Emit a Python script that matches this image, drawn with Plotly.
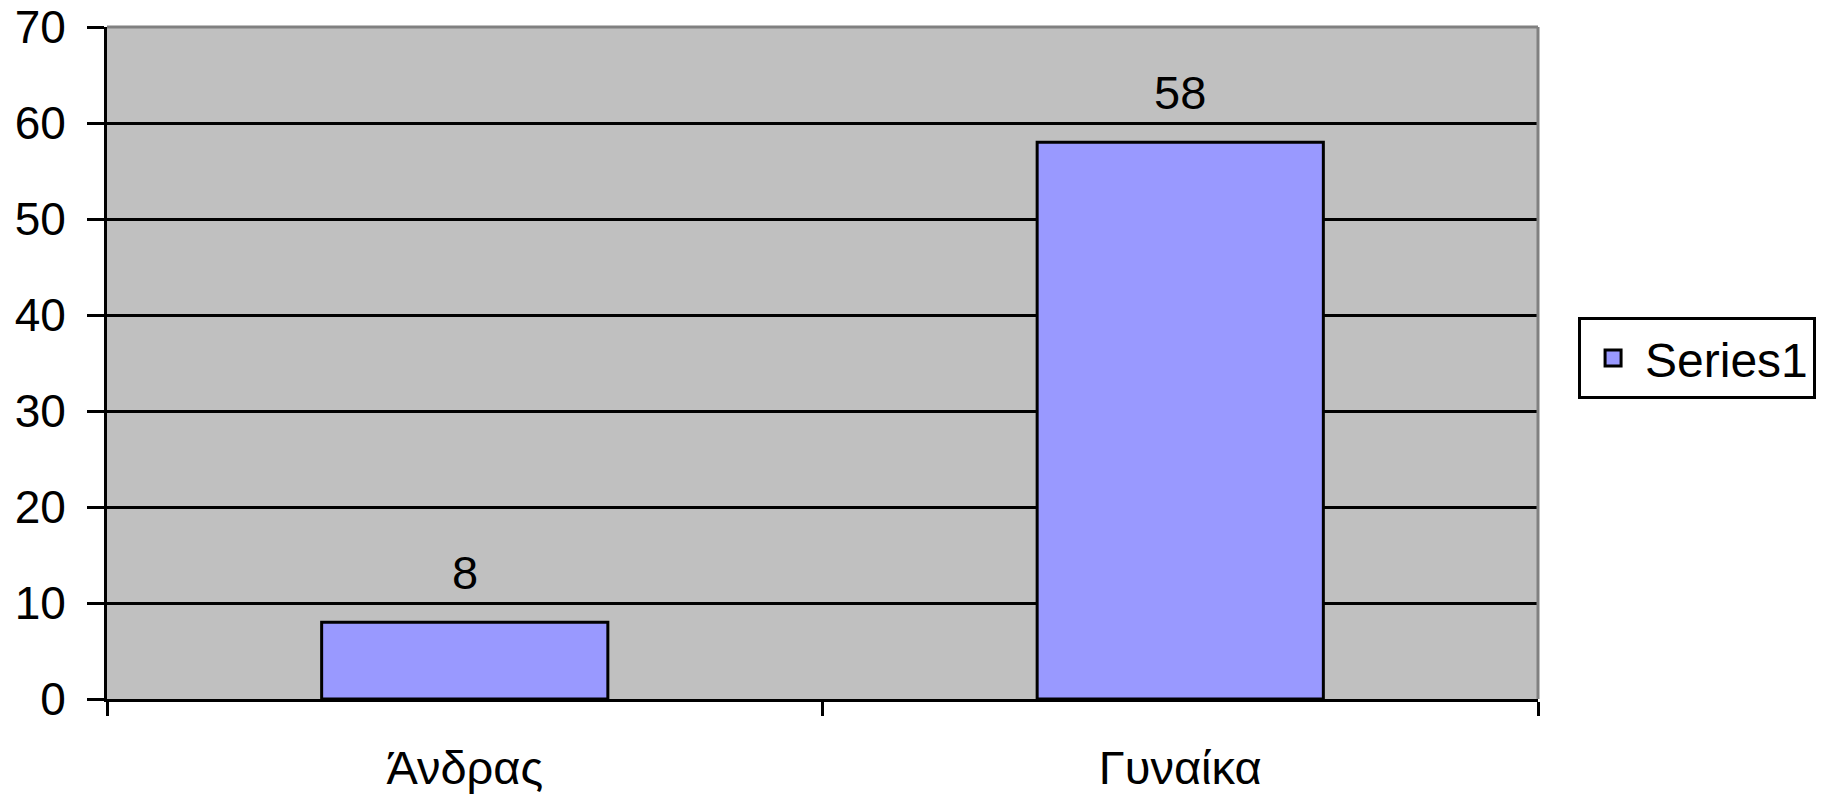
import plotly.graph_objects as go

categories = ["Άνδρας", "Γυναίκα"]
values = [8, 58]
series_name = "Series1"
y_ticks = [0, 10, 20, 30, 40, 50, 60, 70]

FONT = "Liberation Sans, Arial, sans-serif"
BAR_COLOR = "#9999FF"

fig = go.Figure()
fig.add_trace(go.Bar(
    x=categories, y=values, name=series_name,
    marker=dict(color=BAR_COLOR, line=dict(color="black", width=3)),
    width=0.4, showlegend=False,
))
# legend entry with a larger square swatch
fig.add_trace(go.Scatter(
    x=[None], y=[None], mode="markers", name=series_name,
    marker=dict(symbol="square", size=28, color=BAR_COLOR,
                line=dict(color="black", width=3)),
    showlegend=True,
))

for c, v in zip(categories, values):
    fig.add_annotation(x=c, y=v, text=str(v), showarrow=False,
                       yanchor="middle", yshift=50,
                       font=dict(family=FONT, size=47, color="black"))

fig.add_shape(type="line", xref="paper", yref="paper", x0=0, x1=1, y0=1, y1=1,
              line=dict(color="#808080", width=3))
fig.add_shape(type="line", xref="paper", yref="paper", x0=1, x1=1, y0=0, y1=1,
              line=dict(color="#808080", width=3))

fig.update_layout(
    width=1829, height=795,
    margin=dict(l=99, r=299, t=19, b=104, autoexpand=False),
    paper_bgcolor="white", plot_bgcolor="#C0C0C0",
    font=dict(family=FONT, size=47, color="black"),
    legend=dict(x=1.028, y=0.507, xanchor="left", yanchor="middle",
                bordercolor="black", borderwidth=3, bgcolor="white",
                font=dict(family=FONT, size=48), itemwidth=54),
)
fig.update_xaxes(type="category", tickson="boundaries", ticks="outside",
                 ticklen=14, tickwidth=3, tickcolor="black",
                 showline=True, linecolor="black", linewidth=3,
                 showgrid=False, ticklabelstandoff=26, automargin=False)
fig.update_yaxes(range=[0, 70], tickvals=y_ticks, ticks="outside",
                 ticklen=17, tickwidth=3, tickcolor="black",
                 showline=True, linecolor="black", linewidth=3,
                 showgrid=True, gridcolor="black", gridwidth=3,
                 zeroline=False, ticklabelstandoff=12, automargin=False,
                 ticklabeloverflow="allow", tickfont=dict(size=46))

fig.write_html("out.html")
